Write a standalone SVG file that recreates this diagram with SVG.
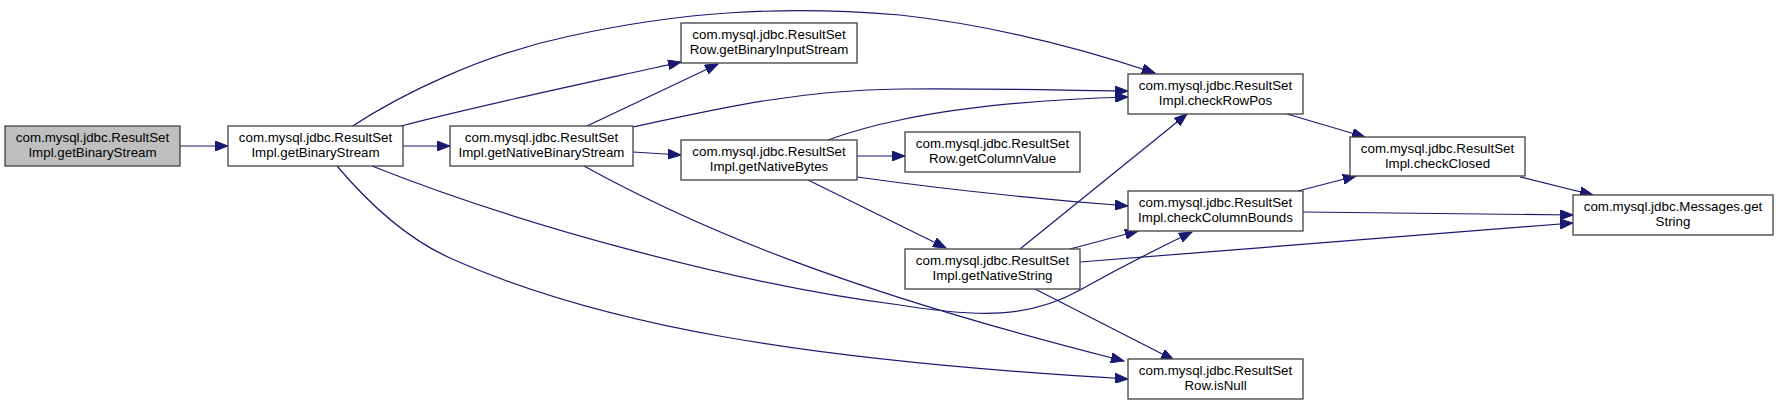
<svg xmlns="http://www.w3.org/2000/svg" width="1779" height="405" viewBox="0 0 1779 405">
<style>
.node rect{fill:#ffffff;stroke:#404040;stroke-width:1.3}
.node.root rect{fill:#bfbfbf}
.node text{font-family:"Liberation Sans",Arial,sans-serif;font-size:13.33px;fill:#000000;text-anchor:middle}
.edges path{fill:none;stroke:#191970;stroke-width:1.2;marker-end:url(#arr)}
</style>
<defs>
<marker id="arr" markerUnits="userSpaceOnUse" markerWidth="14" markerHeight="10" refX="13" refY="5" orient="auto">
<path d="M0,0 L13,5 L0,10 z" fill="#191970" stroke="#191970" stroke-width="1"/>
</marker>
</defs>
<rect width="1779" height="405" fill="#ffffff"/>
<g class="edges">
<path d="M180,146 L228,146"/>
<path d="M403,146 L450,146"/>
<path d="M401,126 C 480,105 600,80 681,62"/>
<path d="M351,127 C 400,95 480,55 570,36 C 680,12 780,5 900,15 C 990,25 1080,48 1155,73"/>
<path d="M372,166 C 520,225 740,285 900,305 C 980,318 1030,318 1080,290 C 1130,262 1165,245 1192,232"/>
<path d="M337,166 C 370,205 410,240 450,258 C 600,325 800,360 1128,379"/>
<path d="M587,126 L 718,64"/>
<path d="M633,127 C 720,108 800,90 900,89 C 1000,88 1080,91 1128,91"/>
<path d="M633,152 L681,155"/>
<path d="M584,166 C 700,230 850,292 1124,361"/>
<path d="M857,156 L905,156"/>
<path d="M828,140 C 850,132 870,126 900,120 C 970,105 1060,99 1128,97"/>
<path d="M857,177 C 950,190 1050,200 1128,206"/>
<path d="M808,180 L946,248"/>
<path d="M1020,249 L1187,114"/>
<path d="M1070,249 L1138,231"/>
<path d="M1080,262 L1573,223"/>
<path d="M1035,289 L1174,360"/>
<path d="M1287,114 L1365,137"/>
<path d="M1298,191 L1356,176"/>
<path d="M1303,212 L1573,215"/>
<path d="M1520,177 L1593,195"/>
</g>
<g id="n1" class="node root"><rect x="5" y="126" width="175" height="40"/><text x="92.5" y="142">com.mysql.jdbc.ResultSet</text><text x="92.5" y="156.5">Impl.getBinaryStream</text></g>
<g id="n2" class="node"><rect x="228" y="126" width="175" height="40"/><text x="315.5" y="142">com.mysql.jdbc.ResultSet</text><text x="315.5" y="156.5">Impl.getBinaryStream</text></g>
<g id="n3" class="node"><rect x="681" y="23" width="176" height="40"/><text x="769" y="39">com.mysql.jdbc.ResultSet</text><text x="769" y="53.5">Row.getBinaryInputStream</text></g>
<g id="n4" class="node"><rect x="450" y="126" width="183" height="40"/><text x="541.5" y="142">com.mysql.jdbc.ResultSet</text><text x="541.5" y="156.5">Impl.getNativeBinaryStream</text></g>
<g id="n5" class="node"><rect x="681" y="140" width="176" height="40"/><text x="769" y="156">com.mysql.jdbc.ResultSet</text><text x="769" y="170.5">Impl.getNativeBytes</text></g>
<g id="n6" class="node"><rect x="1128" y="74" width="175" height="40"/><text x="1215.5" y="90">com.mysql.jdbc.ResultSet</text><text x="1215.5" y="104.5">Impl.checkRowPos</text></g>
<g id="n7" class="node"><rect x="905" y="132" width="175" height="40"/><text x="992.5" y="148">com.mysql.jdbc.ResultSet</text><text x="992.5" y="162.5">Row.getColumnValue</text></g>
<g id="n8" class="node"><rect x="1128" y="191" width="175" height="40"/><text x="1215.5" y="207">com.mysql.jdbc.ResultSet</text><text x="1215.5" y="221.5">Impl.checkColumnBounds</text></g>
<g id="n9" class="node"><rect x="905" y="249" width="175" height="40"/><text x="992.5" y="265">com.mysql.jdbc.ResultSet</text><text x="992.5" y="279.5">Impl.getNativeString</text></g>
<g id="n10" class="node"><rect x="1128" y="359" width="175" height="40"/><text x="1215.5" y="375">com.mysql.jdbc.ResultSet</text><text x="1215.5" y="389.5">Row.isNull</text></g>
<g id="n11" class="node"><rect x="1350" y="137" width="175" height="39"/><text x="1437.5" y="153">com.mysql.jdbc.ResultSet</text><text x="1437.5" y="167.5">Impl.checkClosed</text></g>
<g id="n12" class="node"><rect x="1573" y="195" width="200" height="40"/><text x="1673" y="211">com.mysql.jdbc.Messages.get</text><text x="1673" y="225.5">String</text></g>
</svg>
